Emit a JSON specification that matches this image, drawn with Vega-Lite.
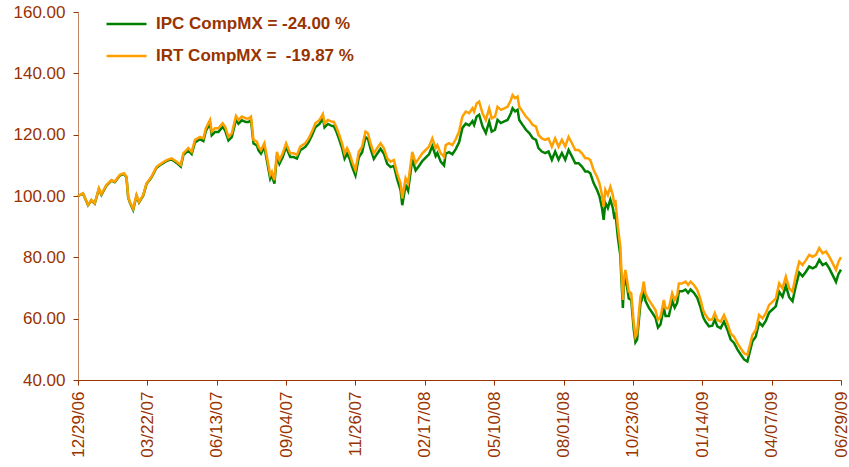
{
"$schema": "https://vega.github.io/schema/vega-lite/v6.json",
"width": 763,
"height": 368,
"autosize": "none",
"padding": {"left": 78, "top": 12, "right": 8, "bottom": 87},
"background": "white",
"config": {"view": {"stroke": null}, "axis": {"grid": false, "labelFont": "Liberation Sans", "labelFontSize": 17, "labelColor": "#993300", "domainColor": "#993300", "tickColor": "#993300", "tickSize": 5, "title": null}},
"data": {"values": [
{"d":"2006-12-29","IRT":100.0,"IPC":100.0},
{"d":"2007-01-04","IRT":100.9,"IPC":100.8},
{"d":"2007-01-10","IRT":97.1,"IPC":97.0},
{"d":"2007-01-14","IRT":98.7,"IPC":98.6},
{"d":"2007-01-18","IRT":97.6,"IPC":97.5},
{"d":"2007-01-23","IRT":102.5,"IPC":102.3},
{"d":"2007-01-26","IRT":100.6,"IPC":100.4},
{"d":"2007-02-01","IRT":103.6,"IPC":103.4},
{"d":"2007-02-07","IRT":105.2,"IPC":105.0},
{"d":"2007-02-11","IRT":104.7,"IPC":104.5},
{"d":"2007-02-17","IRT":106.9,"IPC":106.7},
{"d":"2007-02-22","IRT":107.4,"IPC":107.2},
{"d":"2007-02-25","IRT":106.3,"IPC":106.1},
{"d":"2007-02-27","IRT":99.8,"IPC":99.6},
{"d":"2007-03-01","IRT":98.1,"IPC":97.9},
{"d":"2007-03-05","IRT":95.8,"IPC":95.5},
{"d":"2007-03-09","IRT":100.3,"IPC":100.1},
{"d":"2007-03-12","IRT":98.1,"IPC":97.9},
{"d":"2007-03-17","IRT":100.3,"IPC":100.1},
{"d":"2007-03-21","IRT":104.1,"IPC":103.9},
{"d":"2007-03-27","IRT":106.3,"IPC":106.1},
{"d":"2007-04-02","IRT":109.5,"IPC":109.2},
{"d":"2007-04-08","IRT":110.7,"IPC":110.4},
{"d":"2007-04-14","IRT":111.7,"IPC":111.4},
{"d":"2007-04-20","IRT":112.3,"IPC":112.0},
{"d":"2007-04-26","IRT":111.2,"IPC":110.8},
{"d":"2007-05-01","IRT":110.1,"IPC":109.6},
{"d":"2007-05-04","IRT":113.9,"IPC":113.3},
{"d":"2007-05-10","IRT":115.6,"IPC":114.9},
{"d":"2007-05-14","IRT":114.4,"IPC":113.7},
{"d":"2007-05-18","IRT":118.3,"IPC":117.5},
{"d":"2007-05-24","IRT":119.3,"IPC":118.5},
{"d":"2007-05-28","IRT":118.8,"IPC":117.9},
{"d":"2007-05-31","IRT":122.1,"IPC":121.2},
{"d":"2007-06-05","IRT":124.8,"IPC":123.7},
{"d":"2007-06-07","IRT":121.0,"IPC":119.8},
{"d":"2007-06-11","IRT":122.1,"IPC":120.9},
{"d":"2007-06-15","IRT":122.1,"IPC":120.9},
{"d":"2007-06-20","IRT":123.7,"IPC":122.5},
{"d":"2007-06-23","IRT":122.6,"IPC":121.4},
{"d":"2007-06-27","IRT":119.3,"IPC":118.1},
{"d":"2007-07-01","IRT":120.4,"IPC":119.2},
{"d":"2007-07-06","IRT":126.1,"IPC":124.9},
{"d":"2007-07-09","IRT":124.8,"IPC":123.6},
{"d":"2007-07-13","IRT":125.9,"IPC":124.7},
{"d":"2007-07-18","IRT":125.3,"IPC":124.1},
{"d":"2007-07-21","IRT":125.3,"IPC":124.1},
{"d":"2007-07-24","IRT":125.9,"IPC":124.7},
{"d":"2007-07-27","IRT":118.3,"IPC":117.1},
{"d":"2007-07-31","IRT":117.7,"IPC":116.5},
{"d":"2007-08-02","IRT":116.1,"IPC":114.9},
{"d":"2007-08-05","IRT":115.0,"IPC":113.8},
{"d":"2007-08-09","IRT":117.2,"IPC":116.0},
{"d":"2007-08-12","IRT":112.8,"IPC":111.6},
{"d":"2007-08-16","IRT":106.9,"IPC":105.6},
{"d":"2007-08-18","IRT":107.9,"IPC":106.7},
{"d":"2007-08-21","IRT":105.2,"IPC":104.0},
{"d":"2007-08-24","IRT":114.4,"IPC":113.2},
{"d":"2007-08-27","IRT":111.7,"IPC":110.5},
{"d":"2007-08-31","IRT":113.9,"IPC":112.7},
{"d":"2007-09-04","IRT":117.2,"IPC":116.0},
{"d":"2007-09-09","IRT":113.9,"IPC":112.7},
{"d":"2007-09-13","IRT":113.9,"IPC":112.7},
{"d":"2007-09-17","IRT":113.4,"IPC":112.2},
{"d":"2007-09-21","IRT":116.1,"IPC":114.9},
{"d":"2007-09-27","IRT":117.2,"IPC":116.0},
{"d":"2007-10-01","IRT":118.8,"IPC":117.6},
{"d":"2007-10-05","IRT":121.0,"IPC":119.8},
{"d":"2007-10-09","IRT":123.7,"IPC":122.4},
{"d":"2007-10-14","IRT":124.8,"IPC":123.5},
{"d":"2007-10-18","IRT":126.7,"IPC":125.4},
{"d":"2007-10-20","IRT":123.7,"IPC":122.4},
{"d":"2007-10-24","IRT":124.8,"IPC":123.5},
{"d":"2007-10-29","IRT":124.2,"IPC":122.8},
{"d":"2007-10-31","IRT":124.2,"IPC":122.8},
{"d":"2007-11-03","IRT":122.6,"IPC":121.1},
{"d":"2007-11-06","IRT":120.4,"IPC":118.9},
{"d":"2007-11-10","IRT":117.2,"IPC":115.6},
{"d":"2007-11-13","IRT":113.9,"IPC":112.2},
{"d":"2007-11-16","IRT":115.6,"IPC":113.9},
{"d":"2007-11-19","IRT":113.9,"IPC":112.2},
{"d":"2007-11-22","IRT":111.2,"IPC":109.5},
{"d":"2007-11-26","IRT":108.5,"IPC":106.7},
{"d":"2007-11-30","IRT":114.4,"IPC":112.6},
{"d":"2007-12-04","IRT":116.1,"IPC":114.3},
{"d":"2007-12-08","IRT":121.0,"IPC":119.2},
{"d":"2007-12-11","IRT":120.4,"IPC":118.6},
{"d":"2007-12-14","IRT":117.2,"IPC":115.4},
{"d":"2007-12-18","IRT":113.9,"IPC":112.1},
{"d":"2007-12-22","IRT":115.6,"IPC":113.8},
{"d":"2007-12-26","IRT":117.2,"IPC":115.4},
{"d":"2007-12-30","IRT":115.6,"IPC":113.8},
{"d":"2008-01-03","IRT":112.3,"IPC":110.5},
{"d":"2008-01-07","IRT":111.2,"IPC":109.4},
{"d":"2008-01-11","IRT":111.7,"IPC":109.8},
{"d":"2008-01-15","IRT":107.4,"IPC":105.4},
{"d":"2008-01-19","IRT":104.1,"IPC":101.9},
{"d":"2008-01-21","IRT":99.2,"IPC":97.0},
{"d":"2008-01-25","IRT":105.8,"IPC":103.5},
{"d":"2008-01-28","IRT":104.1,"IPC":101.7},
{"d":"2008-02-02","IRT":114.4,"IPC":112.0},
{"d":"2008-02-06","IRT":110.7,"IPC":108.3},
{"d":"2008-02-10","IRT":112.3,"IPC":109.8},
{"d":"2008-02-14","IRT":113.9,"IPC":111.4},
{"d":"2008-02-18","IRT":115.0,"IPC":112.5},
{"d":"2008-02-22","IRT":116.1,"IPC":113.6},
{"d":"2008-02-26","IRT":118.8,"IPC":116.3},
{"d":"2008-03-01","IRT":115.6,"IPC":113.0},
{"d":"2008-03-03","IRT":116.6,"IPC":114.0},
{"d":"2008-03-07","IRT":113.9,"IPC":111.2},
{"d":"2008-03-11","IRT":112.8,"IPC":110.0},
{"d":"2008-03-13","IRT":116.6,"IPC":113.8},
{"d":"2008-03-17","IRT":117.2,"IPC":114.3},
{"d":"2008-03-21","IRT":116.6,"IPC":113.6},
{"d":"2008-03-25","IRT":118.5,"IPC":115.3},
{"d":"2008-03-29","IRT":121.0,"IPC":117.5},
{"d":"2008-04-02","IRT":125.9,"IPC":122.2},
{"d":"2008-04-06","IRT":127.5,"IPC":123.6},
{"d":"2008-04-10","IRT":127.0,"IPC":123.0},
{"d":"2008-04-14","IRT":128.6,"IPC":124.4},
{"d":"2008-04-16","IRT":127.5,"IPC":123.2},
{"d":"2008-04-19","IRT":130.2,"IPC":125.9},
{"d":"2008-04-22","IRT":130.8,"IPC":126.5},
{"d":"2008-04-26","IRT":127.0,"IPC":122.7},
{"d":"2008-04-30","IRT":124.8,"IPC":120.5},
{"d":"2008-05-04","IRT":128.6,"IPC":124.3},
{"d":"2008-05-07","IRT":125.3,"IPC":121.0},
{"d":"2008-05-11","IRT":125.9,"IPC":121.6},
{"d":"2008-05-14","IRT":129.1,"IPC":124.8},
{"d":"2008-05-18","IRT":128.1,"IPC":123.8},
{"d":"2008-05-22","IRT":128.6,"IPC":124.3},
{"d":"2008-05-26","IRT":129.1,"IPC":124.8},
{"d":"2008-05-30","IRT":131.3,"IPC":127.0},
{"d":"2008-06-01","IRT":132.9,"IPC":128.6},
{"d":"2008-06-04","IRT":131.9,"IPC":127.6},
{"d":"2008-06-07","IRT":132.4,"IPC":128.1},
{"d":"2008-06-09","IRT":129.1,"IPC":124.8},
{"d":"2008-06-13","IRT":127.5,"IPC":123.2},
{"d":"2008-06-17","IRT":125.9,"IPC":121.6},
{"d":"2008-06-21","IRT":124.8,"IPC":120.5},
{"d":"2008-06-25","IRT":123.2,"IPC":118.9},
{"d":"2008-06-29","IRT":122.6,"IPC":118.3},
{"d":"2008-07-02","IRT":119.9,"IPC":115.6},
{"d":"2008-07-06","IRT":118.8,"IPC":114.5},
{"d":"2008-07-10","IRT":118.3,"IPC":114.0},
{"d":"2008-07-14","IRT":118.8,"IPC":114.5},
{"d":"2008-07-18","IRT":116.1,"IPC":111.8},
{"d":"2008-07-22","IRT":118.8,"IPC":114.5},
{"d":"2008-07-26","IRT":116.1,"IPC":111.8},
{"d":"2008-07-30","IRT":118.3,"IPC":114.0},
{"d":"2008-08-03","IRT":116.1,"IPC":111.8},
{"d":"2008-08-07","IRT":119.3,"IPC":115.0},
{"d":"2008-08-11","IRT":117.2,"IPC":112.9},
{"d":"2008-08-15","IRT":115.0,"IPC":110.7},
{"d":"2008-08-19","IRT":115.0,"IPC":110.7},
{"d":"2008-08-23","IRT":113.9,"IPC":109.6},
{"d":"2008-08-27","IRT":112.3,"IPC":108.0},
{"d":"2008-08-30","IRT":112.3,"IPC":108.0},
{"d":"2008-09-02","IRT":111.7,"IPC":107.4},
{"d":"2008-09-06","IRT":108.5,"IPC":104.2},
{"d":"2008-09-10","IRT":106.3,"IPC":102.0},
{"d":"2008-09-13","IRT":104.1,"IPC":99.9},
{"d":"2008-09-16","IRT":100.3,"IPC":96.1},
{"d":"2008-09-18","IRT":96.5,"IPC":92.2},
{"d":"2008-09-20","IRT":102.0,"IPC":97.8},
{"d":"2008-09-23","IRT":100.3,"IPC":96.1},
{"d":"2008-09-26","IRT":103.0,"IPC":98.8},
{"d":"2008-09-29","IRT":100.3,"IPC":96.1},
{"d":"2008-10-01","IRT":96.5,"IPC":92.5},
{"d":"2008-10-02","IRT":98.7,"IPC":94.7},
{"d":"2008-10-05","IRT":90.0,"IPC":86.5},
{"d":"2008-10-08","IRT":83.5,"IPC":80.5},
{"d":"2008-10-09","IRT":77.0,"IPC":74.2},
{"d":"2008-10-11","IRT":66.1,"IPC":63.5},
{"d":"2008-10-12","IRT":72.6,"IPC":70.3},
{"d":"2008-10-14","IRT":75.9,"IPC":73.6},
{"d":"2008-10-16","IRT":72.6,"IPC":70.4},
{"d":"2008-10-18","IRT":68.8,"IPC":66.6},
{"d":"2008-10-21","IRT":68.3,"IPC":66.1},
{"d":"2008-10-24","IRT":58.5,"IPC":56.4},
{"d":"2008-10-26","IRT":54.1,"IPC":52.3},
{"d":"2008-10-28","IRT":55.2,"IPC":53.2},
{"d":"2008-11-01","IRT":67.2,"IPC":64.9},
{"d":"2008-11-03","IRT":68.8,"IPC":66.4},
{"d":"2008-11-05","IRT":72.1,"IPC":69.6},
{"d":"2008-11-07","IRT":68.3,"IPC":65.8},
{"d":"2008-11-11","IRT":66.1,"IPC":63.6},
{"d":"2008-11-15","IRT":64.5,"IPC":62.0},
{"d":"2008-11-19","IRT":62.8,"IPC":60.3},
{"d":"2008-11-22","IRT":59.6,"IPC":57.1},
{"d":"2008-11-25","IRT":60.6,"IPC":58.1},
{"d":"2008-11-29","IRT":66.1,"IPC":63.6},
{"d":"2008-12-01","IRT":63.4,"IPC":60.9},
{"d":"2008-12-05","IRT":63.4,"IPC":60.9},
{"d":"2008-12-09","IRT":68.3,"IPC":65.8},
{"d":"2008-12-12","IRT":66.1,"IPC":63.6},
{"d":"2008-12-15","IRT":67.7,"IPC":65.2},
{"d":"2008-12-17","IRT":71.5,"IPC":68.9},
{"d":"2008-12-21","IRT":71.5,"IPC":68.9},
{"d":"2008-12-25","IRT":72.1,"IPC":69.5},
{"d":"2008-12-28","IRT":71.0,"IPC":68.4},
{"d":"2008-12-31","IRT":72.1,"IPC":69.5},
{"d":"2009-01-04","IRT":71.0,"IPC":68.4},
{"d":"2009-01-08","IRT":69.4,"IPC":66.8},
{"d":"2009-01-12","IRT":66.1,"IPC":63.6},
{"d":"2009-01-15","IRT":62.8,"IPC":60.5},
{"d":"2009-01-18","IRT":61.2,"IPC":59.0},
{"d":"2009-01-22","IRT":59.6,"IPC":57.5},
{"d":"2009-01-26","IRT":59.8,"IPC":57.7},
{"d":"2009-01-29","IRT":61.8,"IPC":59.7},
{"d":"2009-02-01","IRT":59.6,"IPC":57.5},
{"d":"2009-02-05","IRT":59.0,"IPC":56.9},
{"d":"2009-02-09","IRT":61.2,"IPC":59.1},
{"d":"2009-02-13","IRT":58.5,"IPC":56.4},
{"d":"2009-02-17","IRT":55.2,"IPC":53.2},
{"d":"2009-02-21","IRT":54.1,"IPC":52.1},
{"d":"2009-02-25","IRT":52.0,"IPC":50.0},
{"d":"2009-03-01","IRT":50.3,"IPC":48.3},
{"d":"2009-03-05","IRT":48.7,"IPC":46.7},
{"d":"2009-03-09","IRT":48.2,"IPC":46.0},
{"d":"2009-03-12","IRT":51.4,"IPC":49.3},
{"d":"2009-03-15","IRT":54.7,"IPC":52.6},
{"d":"2009-03-19","IRT":56.3,"IPC":54.1},
{"d":"2009-03-23","IRT":61.2,"IPC":58.8},
{"d":"2009-03-27","IRT":60.1,"IPC":57.6},
{"d":"2009-03-31","IRT":61.8,"IPC":59.3},
{"d":"2009-04-04","IRT":64.5,"IPC":62.0},
{"d":"2009-04-08","IRT":65.5,"IPC":63.0},
{"d":"2009-04-12","IRT":66.6,"IPC":64.0},
{"d":"2009-04-16","IRT":71.5,"IPC":68.8},
{"d":"2009-04-20","IRT":69.9,"IPC":67.1},
{"d":"2009-04-24","IRT":73.7,"IPC":70.8},
{"d":"2009-04-28","IRT":69.9,"IPC":67.0},
{"d":"2009-05-02","IRT":68.8,"IPC":65.7},
{"d":"2009-05-06","IRT":74.2,"IPC":70.7},
{"d":"2009-05-10","IRT":78.6,"IPC":75.0},
{"d":"2009-05-14","IRT":77.5,"IPC":73.8},
{"d":"2009-05-18","IRT":79.1,"IPC":75.3},
{"d":"2009-05-22","IRT":80.8,"IPC":77.0},
{"d":"2009-05-26","IRT":80.2,"IPC":76.4},
{"d":"2009-05-30","IRT":80.8,"IPC":77.0},
{"d":"2009-06-03","IRT":83.0,"IPC":79.2},
{"d":"2009-06-07","IRT":81.3,"IPC":77.5},
{"d":"2009-06-11","IRT":81.9,"IPC":78.1},
{"d":"2009-06-15","IRT":80.2,"IPC":76.4},
{"d":"2009-06-19","IRT":78.1,"IPC":74.2},
{"d":"2009-06-23","IRT":75.9,"IPC":72.0},
{"d":"2009-06-26","IRT":78.6,"IPC":74.6},
{"d":"2009-06-29","IRT":80.1,"IPC":76.0}
]},
"transform": [{"fold": ["IPC", "IRT"], "as": ["serie", "valor"]}],
"mark": {"type": "line", "strokeWidth": 2.5},
"encoding": {
  "x": {"field": "d", "type": "temporal",
    "scale": {"type": "utc", "nice": false, "domain": [{"year": 2006, "month": 12, "date": 29, "utc": true}, {"year": 2009, "month": 6, "date": 29, "utc": true}]},
    "axis": {"values": [
      {"year": 2006, "month": 12, "date": 29, "utc": true},
      {"year": 2007, "month": 3, "date": 22, "utc": true},
      {"year": 2007, "month": 6, "date": 13, "utc": true},
      {"year": 2007, "month": 9, "date": 4, "utc": true},
      {"year": 2007, "month": 11, "date": 26, "utc": true},
      {"year": 2008, "month": 2, "date": 17, "utc": true},
      {"year": 2008, "month": 5, "date": 10, "utc": true},
      {"year": 2008, "month": 8, "date": 1, "utc": true},
      {"year": 2008, "month": 10, "date": 23, "utc": true},
      {"year": 2009, "month": 1, "date": 14, "utc": true},
      {"year": 2009, "month": 4, "date": 7, "utc": true},
      {"year": 2009, "month": 6, "date": 29, "utc": true}],
      "format": "%m/%d/%y", "labelAngle": -90, "labelPadding": 6, "labelFlush": false, "labelOverlap": false, "labelBound": false}},
  "y": {"field": "valor", "type": "quantitative",
    "scale": {"domain": [40, 160], "nice": false, "zero": false},
    "axis": {"values": [40, 60, 80, 100, 120, 140, 160], "format": ".2f", "labelPadding": 8, "domainOpacity": 0.6}},
  "color": {"field": "serie", "type": "nominal",
    "scale": {"domain": ["IPC", "IRT"], "range": ["#008000", "#FFA000"]},
    "legend": {"orient": "none", "legendX": 27, "legendY": 2, "title": null, "padding": 0,
      "symbolType": "stroke", "symbolSize": 1600, "symbolStrokeWidth": 2.5,
      "clipHeight": 20, "rowPadding": 12, "labelOffset": 8, "labelLimit": 500,
      "labelFont": "Liberation Sans", "labelFontSize": 17, "labelFontWeight": "bold", "labelColor": "#993300",
      "labelExpr": "datum.label == 'IPC' ? 'IPC CompMX = -24.00 %' : 'IRT CompMX = \u00a0-19.87 %'"}}
}
}
